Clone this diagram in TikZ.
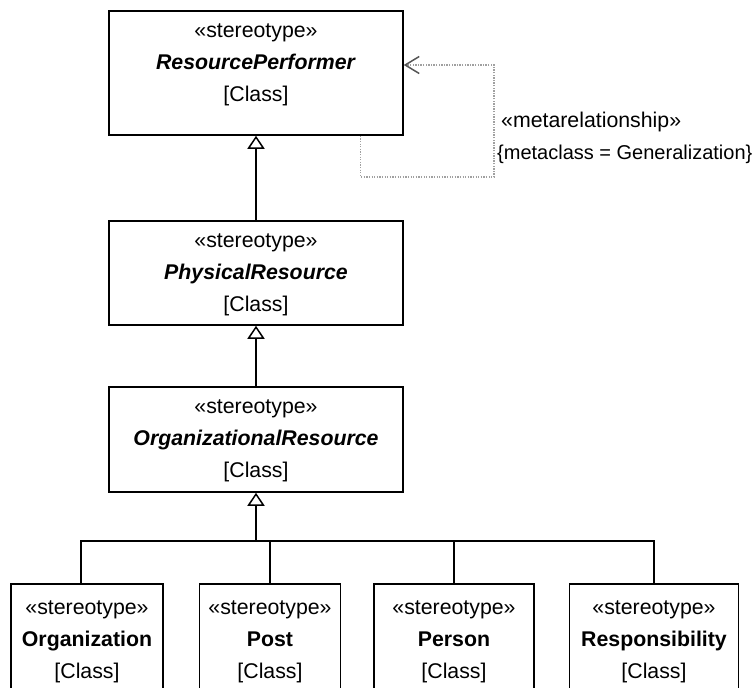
\documentclass[tikz,border=0pt]{standalone}
\usepackage{fontspec}
\setmainfont{Liberation Sans}
\usetikzlibrary{arrows.meta}
\definecolor{relgray}{HTML}{A0A0A0}
\definecolor{tipgray}{HTML}{555555}
\tikzset{
    cls/.style={
        draw, line width=1.5pt, inner sep=0pt,
        font=\fontsize{21.3}{32}\selectfont
    },
    gen/.style={
        line width=1.5pt,
        -{Triangle[open, length=13pt, width=17pt, line width=1.5pt]}
    },
    metarel/.style={
        draw=relgray, line width=1.3pt, dash pattern=on 1.3pt off 1.3pt,
        -{Straight Barb[length=14pt, width=17pt, line width=1.5pt, color=tipgray]}
    }
}
\newcommand\clsbody[1]{\begin{tabular}{@{}c@{}}«stereotype»\\#1\\{[Class]}\end{tabular}}

\begin{document}
\begin{tikzpicture}[x=1pt, y=-1pt, line join=miter]

\clip (0,0) rectangle (756,688);

% abstract stereotypes, one above the other
\node[cls, minimum width=294pt, minimum height=124pt] (perf) at (256,73)
  {\raisebox{10pt}[\height][\depth]{\clsbody{\textbf{\textit{ResourcePerformer}}}}};
\node[cls, minimum width=294pt, minimum height=104pt] (phys) at (256,273)
  {\clsbody{\textbf{\textit{PhysicalResource}}}};
\node[cls, minimum width=294pt, minimum height=105pt] (orgres) at (256,439.5)
  {\clsbody{\textbf{\textit{OrganizationalResource}}}};

% concrete stereotypes along the bottom
\node[cls, minimum width=152pt, minimum height=112pt, anchor=north] (org) at (87,583)
  {\clsbody{\textbf{Organization}}};
\node[cls, minimum width=141pt, minimum height=112pt, anchor=north] (post) at (270,583)
  {\clsbody{\textbf{Post}}};
\node[cls, minimum width=160pt, minimum height=112pt, anchor=north] (person) at (454,583)
  {\clsbody{\textbf{Person}}};
\node[cls, minimum width=169pt, minimum height=112pt, anchor=north] (resp) at (654,583)
  {\clsbody{\textbf{Responsibility}}};

% generalizations
\draw[gen] (phys.north) -- (perf.south);
\draw[gen] (orgres.north) -- (phys.south);

\coordinate (bus) at (256,541);
\draw[gen] (bus) -- (orgres.south);
\draw[line width=1.5pt] ([xshift=-6pt]org.north) |- (bus) -| (resp.north);
\foreach \n in {post,person} {
  \draw[line width=1.5pt] (\n.north) -- (\n.north |- bus);
}

% self relationship
\coordinate (loop) at (494,177);
\draw[metarel] ([xshift=-43pt]perf.south east) |- (loop) |- ([yshift=8pt]perf.east);

\node[font=\fontsize{21.3}{32}\selectfont, align=left, anchor=north west, inner sep=0pt] (metalab) at (497,112)
  {\hspace*{4pt}«metarelationship»\\{\fontsize{20}{32}\selectfont\{metaclass = Generalization\}}};

\end{tikzpicture}
\end{document}
